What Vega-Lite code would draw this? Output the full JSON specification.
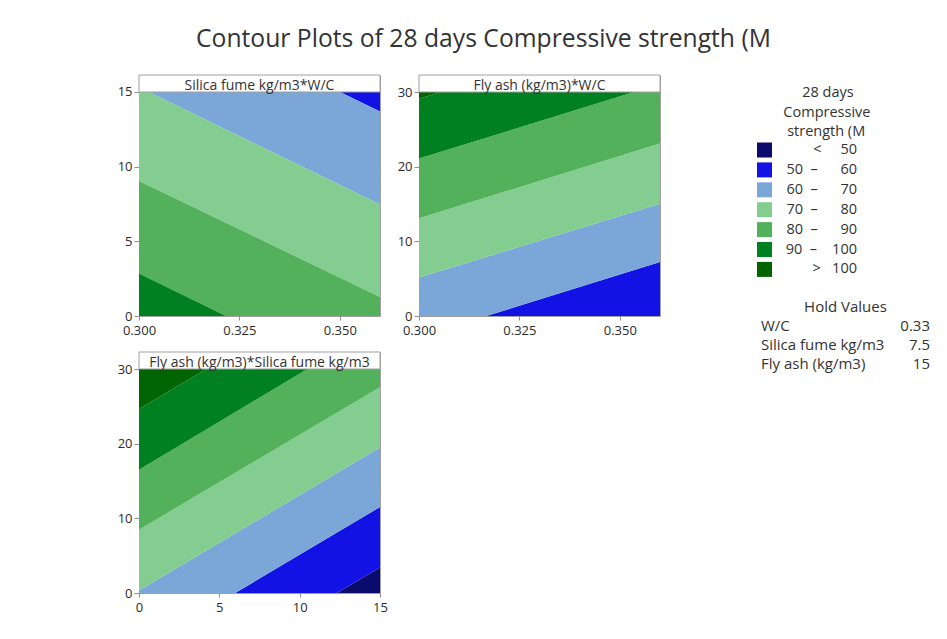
{
  "$schema": "https://vega.github.io/schema/vega-lite/v6.json",
  "autosize": "none",
  "padding": {"left": 139, "top": 75, "right": 808, "bottom": 564},
  "background": "white",
  "title": {
    "text": "Contour Plots of 28 days Compressive strength (M",
    "anchor": "start", "frame": "group", "dx": 57, "offset": 22,
    "fontSize": 24.7, "fontWeight": "normal", "color": "#333333", "font": "Open Sans"
  },
  "datasets": {
    "p1": [
      {"x": 0.3, "lo": 21.55, "hi": 27.8, "band": "50 – 60"},
      {"x": 0.36, "lo": 13.69, "hi": 19.93, "band": "50 – 60"},
      {"x": 0.3, "lo": 15.32, "hi": 21.55, "band": "60 – 70"},
      {"x": 0.36, "lo": 7.46, "hi": 13.69, "band": "60 – 70"},
      {"x": 0.3, "lo": 9.04, "hi": 15.32, "band": "70 – 80"},
      {"x": 0.36, "lo": 1.27, "hi": 7.46, "band": "70 – 80"},
      {"x": 0.3, "lo": 2.84, "hi": 9.04, "band": "80 – 90"},
      {"x": 0.36, "lo": -5.02, "hi": 1.27, "band": "80 – 90"},
      {"x": 0.3, "lo": -3.4, "hi": 2.84, "band": "90 – 100"},
      {"x": 0.36, "lo": -11.26, "hi": -5.02, "band": "90 – 100"}
    ],
    "p2": [
      {"x": 0.3, "lo": -10.8, "hi": -2.8, "band": "50 – 60"},
      {"x": 0.36, "lo": -0.8, "hi": 7.23, "band": "50 – 60"},
      {"x": 0.3, "lo": -2.8, "hi": 5.14, "band": "60 – 70"},
      {"x": 0.36, "lo": 7.23, "hi": 15.05, "band": "60 – 70"},
      {"x": 0.3, "lo": 5.14, "hi": 13.08, "band": "70 – 80"},
      {"x": 0.36, "lo": 15.05, "hi": 23.09, "band": "70 – 80"},
      {"x": 0.3, "lo": 13.08, "hi": 21.08, "band": "80 – 90"},
      {"x": 0.36, "lo": 23.09, "hi": 31.08, "band": "80 – 90"},
      {"x": 0.3, "lo": 21.08, "hi": 29.1, "band": "90 – 100"},
      {"x": 0.36, "lo": 31.08, "hi": 39.1, "band": "90 – 100"},
      {"x": 0.3, "lo": 29.1, "hi": 37.1, "band": "> 100"},
      {"x": 0.36, "lo": 39.1, "hi": 47.1, "band": "> 100"}
    ],
    "p3": [
      {"x": 0, "lo": -23.7, "hi": -15.7, "band": "< 50"},
      {"x": 15, "lo": -4.6, "hi": 3.43, "band": "< 50"},
      {"x": 0, "lo": -15.7, "hi": -7.66, "band": "50 – 60"},
      {"x": 15, "lo": 3.43, "hi": 11.52, "band": "50 – 60"},
      {"x": 0, "lo": -7.66, "hi": 0.35, "band": "60 – 70"},
      {"x": 15, "lo": 11.52, "hi": 19.5, "band": "60 – 70"},
      {"x": 0, "lo": 0.35, "hi": 8.48, "band": "70 – 80"},
      {"x": 15, "lo": 19.5, "hi": 27.54, "band": "70 – 80"},
      {"x": 0, "lo": 8.48, "hi": 16.51, "band": "80 – 90"},
      {"x": 15, "lo": 27.54, "hi": 35.8, "band": "80 – 90"},
      {"x": 0, "lo": 16.51, "hi": 24.64, "band": "90 – 100"},
      {"x": 15, "lo": 35.8, "hi": 43.8, "band": "90 – 100"},
      {"x": 0, "lo": 24.64, "hi": 32.7, "band": "> 100"},
      {"x": 15, "lo": 43.8, "hi": 51.9, "band": "> 100"}
    ],
    "headers": [
      {"panel": 1, "title": "Silica fume kg/m3*W/C"},
      {"panel": 2, "title": "Fly ash (kg/m3)*W/C"},
      {"panel": 3, "title": "Fly ash (kg/m3)*Silica fume kg/m3"}
    ],
    "hold": [
      {"item": "W/C", "value": "0.33"},
      {"item": "Silica fume kg/m3", "value": "7.5"},
      {"item": "Fly ash (kg/m3)", "value": "15"}
    ]
  },
  "columns": 3,
  "spacing": {"column": 39, "row": 36},
  "bounds": "flush",
  "concat": [
    {
      "width": 241, "height": 241,
      "layer": [
        {
          "data": {"name": "p1"},
          "mark": {"type": "area", "clip": true},
          "encoding": {
            "x": {"field": "x", "type": "quantitative", "scale": {"domain": [0.3, 0.36], "nice": false, "zero": false}, "axis": {"values": [0.3, 0.325, 0.35], "format": ".3f", "title": null}},
            "y": {"field": "lo", "type": "quantitative", "scale": {"domain": [0, 16.138], "nice": false}, "axis": {"values": [0, 5, 10, 15], "title": null}},
            "y2": {"field": "hi"},
            "fill": {"field": "band", "type": "nominal",
              "scale": {"domain": ["< 50", "50 – 60", "60 – 70", "70 – 80", "80 – 90", "90 – 100", "> 100"], "range": ["#0b0b6e", "#1212e4", "#7ba6d8", "#82cd8f", "#53b15b", "#008020", "#006400"]},
              "legend": {"title": ["\u200b\u00a0\u00a0\u00a0\u00a0\u00a0\u00a0\u00a0\u00a0\u00a0\u00a0\u00a0\u00a028 days", "\u200b\u00a0\u00a0\u00a0\u00a0\u00a0\u00a0\u00a0Compressive", "\u200b\u00a0\u00a0\u00a0\u00a0\u00a0\u00a0\u00a0\u00a0strength (M"],
                "labelExpr": "datum.label == '< 50' ? '<\u00a0\u00a0\u00a0\u00a0\u00a050' : datum.label == '> 100' ? '>\u00a0\u00a0\u00a0100' : datum.label == '90 – 100' ? '90\u00a0\u00a0–\u00a0\u00a0\u00a0\u00a0100' : replace(datum.label, ' – ', '\u00a0\u00a0–\u00a0\u00a0\u00a0\u00a0\u00a0\u00a0')"}}
          }
        },
        {
          "data": {"name": "headers"},
          "transform": [{"filter": "datum.panel == 1"}],
          "mark": {"type": "rect", "fill": "white", "stroke": "#a0a0a0", "strokeWidth": 1},
          "encoding": {"x": {"datum": 0.3}, "x2": {"datum": 0.36}, "y": {"datum": 15}, "y2": {"datum": 16.138}}
        },
        {
          "data": {"name": "headers"},
          "transform": [{"filter": "datum.panel == 1"}],
          "mark": {"type": "text", "fontSize": 14, "baseline": "alphabetic", "align": "center", "color": "#333333"},
          "encoding": {"text": {"field": "title"}, "x": {"datum": 0.33}, "y": {"datum": 15.133}}
        }
      ]
    },
    {
      "width": 241, "height": 241,
      "layer": [
        {
          "data": {"name": "p2"},
          "mark": {"type": "area", "clip": true},
          "encoding": {
            "x": {"field": "x", "type": "quantitative", "scale": {"domain": [0.3, 0.36], "nice": false, "zero": false}, "axis": {"values": [0.3, 0.325, 0.35], "format": ".3f", "title": null}},
            "y": {"field": "lo", "type": "quantitative", "scale": {"domain": [0, 32.277], "nice": false}, "axis": {"values": [0, 10, 20, 30], "title": null}},
            "y2": {"field": "hi"},
            "fill": {"field": "band", "type": "nominal",
              "scale": {"domain": ["< 50", "50 – 60", "60 – 70", "70 – 80", "80 – 90", "90 – 100", "> 100"], "range": ["#0b0b6e", "#1212e4", "#7ba6d8", "#82cd8f", "#53b15b", "#008020", "#006400"]},
              "legend": {"title": ["\u200b\u00a0\u00a0\u00a0\u00a0\u00a0\u00a0\u00a0\u00a0\u00a0\u00a0\u00a0\u00a028 days", "\u200b\u00a0\u00a0\u00a0\u00a0\u00a0\u00a0\u00a0Compressive", "\u200b\u00a0\u00a0\u00a0\u00a0\u00a0\u00a0\u00a0\u00a0strength (M"],
                "labelExpr": "datum.label == '< 50' ? '<\u00a0\u00a0\u00a0\u00a0\u00a050' : datum.label == '> 100' ? '>\u00a0\u00a0\u00a0100' : datum.label == '90 – 100' ? '90\u00a0\u00a0–\u00a0\u00a0\u00a0\u00a0100' : replace(datum.label, ' – ', '\u00a0\u00a0–\u00a0\u00a0\u00a0\u00a0\u00a0\u00a0')"}}
          }
        },
        {
          "data": {"name": "headers"},
          "transform": [{"filter": "datum.panel == 2"}],
          "mark": {"type": "rect", "fill": "white", "stroke": "#a0a0a0", "strokeWidth": 1},
          "encoding": {"x": {"datum": 0.3}, "x2": {"datum": 0.36}, "y": {"datum": 30}, "y2": {"datum": 32.277}}
        },
        {
          "data": {"name": "headers"},
          "transform": [{"filter": "datum.panel == 2"}],
          "mark": {"type": "text", "fontSize": 14, "baseline": "alphabetic", "align": "center", "color": "#333333"},
          "encoding": {"text": {"field": "title"}, "x": {"datum": 0.33}, "y": {"datum": 30.268}}
        }
      ]
    },
    {
      "width": 231, "height": 241,
      "view": {"stroke": null},
      "layer": [
        {
          "data": {"values": [{"item": "Hold Values"}]},
          "mark": {"type": "text", "align": "center", "baseline": "middle", "fontSize": 15, "color": "#333333"},
          "encoding": {
            "text": {"field": "item"},
            "x": {"datum": 0.5, "type": "quantitative", "scale": {"domain": [0, 1], "range": [62, 231]}, "axis": null},
            "y": {"field": "item", "type": "ordinal", "scale": {"type": "point", "domain": ["Hold Values", "W/C", "Silica fume kg/m3", "Fly ash (kg/m3)"], "range": [232, 289], "padding": 0}, "axis": null}
          }
        },
        {
          "data": {"name": "hold"},
          "mark": {"type": "text", "align": "left", "baseline": "middle", "fontSize": 15, "color": "#333333"},
          "encoding": {
            "text": {"field": "item"},
            "x": {"datum": 0, "type": "quantitative", "scale": {"domain": [0, 1], "range": [62, 231]}, "axis": null},
            "y": {"field": "item", "type": "ordinal", "scale": {"type": "point", "domain": ["Hold Values", "W/C", "Silica fume kg/m3", "Fly ash (kg/m3)"], "range": [232, 289], "padding": 0}, "axis": null}
          }
        },
        {
          "data": {"name": "hold"},
          "mark": {"type": "text", "align": "right", "baseline": "middle", "fontSize": 15, "color": "#333333"},
          "encoding": {
            "text": {"field": "value"},
            "x": {"datum": 1, "type": "quantitative", "scale": {"domain": [0, 1], "range": [62, 231]}, "axis": null},
            "y": {"field": "item", "type": "ordinal", "scale": {"type": "point", "domain": ["Hold Values", "W/C", "Silica fume kg/m3", "Fly ash (kg/m3)"], "range": [232, 289], "padding": 0}, "axis": null}
          }
        }
      ]
    },
    {
      "width": 241, "height": 241,
      "layer": [
        {
          "data": {"name": "p3"},
          "mark": {"type": "area", "clip": true},
          "encoding": {
            "x": {"field": "x", "type": "quantitative", "scale": {"domain": [0, 15], "nice": false}, "axis": {"values": [0, 5, 10, 15], "title": null}},
            "y": {"field": "lo", "type": "quantitative", "scale": {"domain": [0, 32.277], "nice": false}, "axis": {"values": [0, 10, 20, 30], "title": null}},
            "y2": {"field": "hi"},
            "fill": {"field": "band", "type": "nominal",
              "scale": {"domain": ["< 50", "50 – 60", "60 – 70", "70 – 80", "80 – 90", "90 – 100", "> 100"], "range": ["#0b0b6e", "#1212e4", "#7ba6d8", "#82cd8f", "#53b15b", "#008020", "#006400"]},
              "legend": {"title": ["\u200b\u00a0\u00a0\u00a0\u00a0\u00a0\u00a0\u00a0\u00a0\u00a0\u00a0\u00a0\u00a028 days", "\u200b\u00a0\u00a0\u00a0\u00a0\u00a0\u00a0\u00a0Compressive", "\u200b\u00a0\u00a0\u00a0\u00a0\u00a0\u00a0\u00a0\u00a0strength (M"],
                "labelExpr": "datum.label == '< 50' ? '<\u00a0\u00a0\u00a0\u00a0\u00a050' : datum.label == '> 100' ? '>\u00a0\u00a0\u00a0100' : datum.label == '90 – 100' ? '90\u00a0\u00a0–\u00a0\u00a0\u00a0\u00a0100' : replace(datum.label, ' – ', '\u00a0\u00a0–\u00a0\u00a0\u00a0\u00a0\u00a0\u00a0')"}}
          }
        },
        {
          "data": {"name": "headers"},
          "transform": [{"filter": "datum.panel == 3"}],
          "mark": {"type": "rect", "fill": "white", "stroke": "#a0a0a0", "strokeWidth": 1},
          "encoding": {"x": {"datum": 0}, "x2": {"datum": 15}, "y": {"datum": 30}, "y2": {"datum": 32.277}}
        },
        {
          "data": {"name": "headers"},
          "transform": [{"filter": "datum.panel == 3"}],
          "mark": {"type": "text", "fontSize": 14, "baseline": "alphabetic", "align": "center", "color": "#333333"},
          "encoding": {"text": {"field": "title"}, "x": {"datum": 7.5}, "y": {"datum": 30.268}}
        }
      ]
    }
  ],
  "config": {
    "font": "Open Sans",
    "view": {"stroke": "#a0a0a0", "strokeWidth": 1},
    "axis": {
      "labelFont": "Open Sans", "labelFontSize": 13, "labelColor": "#2a2a2a",
      "tickColor": "#909090", "tickSize": 5, "domain": false, "grid": false,
      "labelPadding": 2, "labelFlush": false, "labelOverlap": false
    },
    "axisX": {"tickSize": 4, "labelPadding": 4},
    "legend": {
      "orient": "none", "legendX": 618, "legendY": 11,
      "titleFont": "Open Sans", "titleFontSize": 14.5, "titleFontWeight": "normal", "titleColor": "#333333",
      "titleLineHeight": 19.5, "titleAlign": "left", "titleAnchor": "start", "titlePadding": 3, "titleLimit": 300,
      "symbolType": "square", "symbolSize": 225, "symbolStrokeWidth": 0, "symbolOpacity": 1,
      "labelFont": "Open Sans", "labelFontSize": 14.5, "labelColor": "#333333",
      "labelAlign": "right", "labelOffset": 85, "rowPadding": 3.9
    }
  }
}
